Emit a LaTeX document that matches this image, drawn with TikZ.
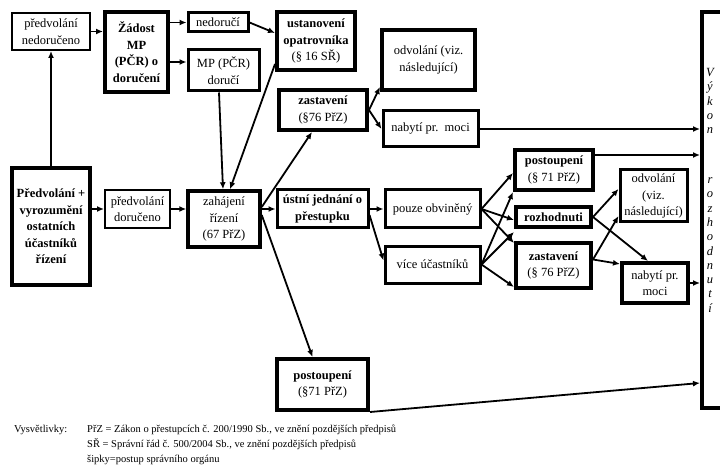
\documentclass[tikz,border=0pt]{standalone}
\usepackage{fontspec}
\setmainfont{Liberation Serif}
\usetikzlibrary{arrows.meta}
\begin{document}
\begin{tikzpicture}[x=1pt,y=-1pt,
  every node/.style={font=\fontsize{12.5}{16.5}\selectfont, inner sep=0pt, align=center},
  bx/.style={draw, rectangle, line width=3pt},
  bxthin/.style={draw, rectangle, line width=2pt},
  bxthick/.style={draw, rectangle, line width=4pt},
  conn/.style={line width=1.8pt, -{Latex[length=7pt,width=6pt]}},
  vtext/.style={font=\fontsize{12.5}{14.3}\selectfont\itshape},
  legend/.style={font=\fontsize{10.5}{15}\selectfont, anchor=base west, align=left}
]
\useasboundingbox (0,0) rectangle (720,473);

% boxes
\node[bxthin, minimum width=78pt, minimum height=37pt] (pn) at (51,31.5) {předvolání\\nedoručeno};
\node[bxthick, minimum width=63pt, minimum height=80pt] (zad) at (136.5,52) {\bfseries Žádost\\\bfseries MP\\\bfseries (PČR) o\\\bfseries doručení};
\node[bx, minimum width=60pt, minimum height=19pt] (ned) at (218,22.5) {nedoručí};
\node[bx, minimum width=71pt, minimum height=41pt] (mpd) at (223.5,70.5) {MP (PČR)\\doručí};
\node[bxthick, minimum width=78pt, minimum height=58pt] (ust) at (316,41) {\bfseries ustanovení\\\bfseries opatrovníka\\(§ 16 SŘ)};
\node[bxthick, minimum width=93pt, minimum height=60pt] (odv1) at (428.5,60) {odvolání (viz.\\následující)};
\node[bxthick, minimum width=88pt, minimum height=40pt] (zas1) at (323,110) {\bfseries zastavení\\(§76 PřZ)};
\node[bx, minimum width=95pt, minimum height=36pt] (nab1) at (430.5,129) {nabytí pr.\ \ moci};
\node[bxthick, minimum width=78pt, minimum height=117pt] (pv) at (51,226.5) {\bfseries Předvolání +\\\bfseries vyrozumění\\\bfseries ostatních\\\bfseries účastníků\\\bfseries řízení};
\node[bxthin, minimum width=65pt, minimum height=38pt] (pd) at (137.5,209) {předvolání\\doručeno};
\node[bxthick, line width=3.5pt, minimum width=72pt, minimum height=56pt] (zah) at (224,219) {zahájení\\řízení\\(67 PřZ)};
\node[bx, minimum width=91pt, minimum height=38pt] (uj) at (322.5,209) {\bfseries ústní jednání o\\\bfseries přestupku};
\node[bx, minimum width=95pt, minimum height=38pt] (pob) at (432.5,209) {pouze obviněný};
\node[bx, minimum width=95pt, minimum height=37pt] (vic) at (432.5,264.5) {více účastníků};
\node[bxthick, minimum width=78pt, minimum height=40pt] (post1) at (554,170) {\bfseries postoupení\\(§ 71 PřZ)};
\node[bxthick, minimum width=75pt, minimum height=20pt] (roz) at (553.5,217) {\bfseries rozhodnuti};
\node[bxthick, minimum width=75pt, minimum height=45pt] (zas2) at (553.5,265.5) {\bfseries zastavení\\(§ 76 PřZ)};
\node[bx, minimum width=67pt, minimum height=52pt] (odv2) at (653.5,196) {odvolání\\(viz.\\následující)};
\node[bxthick, minimum width=66pt, minimum height=40pt] (nab2) at (655,283) {nabytí pr.\\moci};
\node[bxthick, minimum width=62pt, minimum height=396pt] (vyk) at (733,210) {};
\node[vtext] (vyk1) at (710,101) {V\\ý\\k\\o\\n};
\node[vtext] (vyk2) at (710,245) {r\\o\\z\\h\\o\\d\\n\\u\\t\\í};
\node[bxthick, minimum width=91pt, minimum height=51pt] (post2) at (322.5,384.5) {\bfseries postoupení\\(§71 PřZ)};

% connectors
\draw[conn] (pv.north) -- (pn.south);
\draw[conn] (pn.east) -- (pn.east -| zad.west);
\draw[conn] (zad.east |- ned.west) -- (ned.west);
\coordinate (mpdin) at ([yshift=8.5pt]mpd.west);
\draw[conn] (zad.east |- mpdin) -- (mpdin);
\draw[conn] (ned.east) -- ([yshift=8pt]ust.west);
\draw[conn] ([xshift=-4.5pt]mpd.south) -- ([xshift=-1pt]zah.north);
\draw[conn] ([yshift=8pt]ust.south west) -- ([xshift=6pt]zah.north);
\draw[conn] (pv.east |- pd.west) -- (pd.west);
\draw[conn] (pd.east) -- (pd.east -| zah.west);
\draw[conn] (zah.east |- uj.west) -- (uj.west);
\draw[conn] ([yshift=12pt]zah.east) -- ([xshift=-11pt]zas1.south);
\draw[conn] ([yshift=4pt]zah.east) -- ([xshift=-10pt]post2.north);
\draw[conn] (zas1.east) -- ([yshift=5pt]odv1.south west);
\draw[conn] (zas1.east) -- (nab1.west);
\draw[conn] (nab1.east) -- (nab1.east -| vyk.west);
\coordinate (p1out) at ([yshift=15pt]post1.east);
\draw[conn] (p1out) -- (p1out -| vyk.west);
\draw[conn] (uj.east) -- (pob.west);
\draw[conn] ([yshift=-6pt]uj.east) -- ([yshift=4pt]vic.west);
\draw[conn] (pob.east) -- ([yshift=-3pt]post1.west);
\draw[conn] (pob.east) -- ([yshift=-3pt]roz.west);
\draw[conn] (pob.east) -- ([yshift=-2pt]zas2.north west);
\draw[conn] (vic.east) -- (post1.south west);
\draw[conn] (vic.east) -- ([yshift=-3pt]roz.south west);
\draw[conn] (vic.east) -- ([yshift=3pt]zas2.south west);
\draw[conn] (roz.east) -- ([yshift=7pt]odv2.west);
\draw[conn] (roz.east) -- ([xshift=-7pt]nab2.north);
\draw[conn] ([yshift=6pt]zas2.east) -- ([yshift=-20pt]odv2.west);
\draw[conn] ([yshift=6pt]zas2.east) -- ([yshift=-3pt]nab2.north west);
\draw[conn] (nab2.east) -- (nab2.east -| vyk.west);
\draw[conn] (post2.south east) -- ([yshift=-173pt]vyk.west);

% legend
\node[legend] (lg0) at (14,432) {Vysvětlivky:};
\node[legend] (lg1) at (87,432) {PřZ = Zákon o přestupcích č. 200/1990 Sb., ve znění pozdějších předpisů};
\node[legend] (lg2) at (87,447) {SŘ = Správní řád č. 500/2004 Sb., ve znění pozdějších předpisů};
\node[legend] (lg3) at (87,462) {šipky=postup správního orgánu};
\end{tikzpicture}
\end{document}
